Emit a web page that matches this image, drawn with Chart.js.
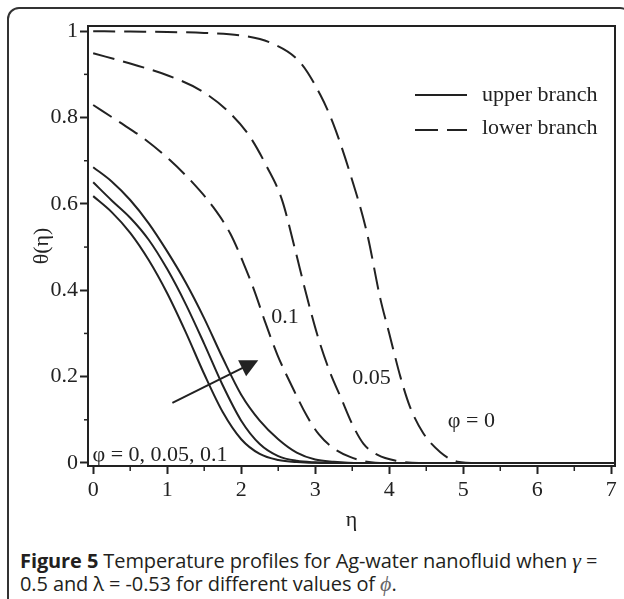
<!DOCTYPE html>
<html>
<head>
<meta charset="utf-8">
<script src="https://cdn.jsdelivr.net/npm/chart.js@4.4.1/dist/chart.umd.min.js"></script>
<style>
  html, body { margin: 0; padding: 0; background: #fff; }
  body { width: 624px; height: 599px; position: relative; overflow: hidden; }
  #frame {
    position: absolute; left: 7px; top: 7px; width: 625px; height: 660px;
    border: 2px solid #333; border-radius: 12px; box-sizing: border-box;
  }
  #wrap { position: absolute; left: 0; top: 0; width: 624px; height: 540px; }
  #caption {
    position: absolute; left: 20px; top: 549px;
    font-family: 'Open Sans', sans-serif; font-size: 20px; line-height: 23px;
    letter-spacing: -0.1px; color: #231f20; white-space: nowrap;
  }
  #caption b { font-weight: 700; }
  #caption .sym { font-family: 'Liberation Serif', serif; font-style: italic; font-size: 22px; }
</style>
</head>
<body>
<div id="frame"></div>
<div id="wrap"><canvas id="chart" width="624" height="540"></canvas></div>
<div id="caption"><b>Figure 5</b> Temperature profiles for Ag-water nanofluid when <span class="sym">γ</span> =<br>0.5 and λ = -0.53 for different values of <span class="sym" style="color:#666">ϕ</span>.</div>

<script>
// axis ticks
const etaTicks = [0, 1, 2, 3, 4, 5, 6, 7];
const etaMinor = [0.5, 1.5, 2.5, 3.5, 4.5, 5.5, 6.5];
const thetaTicks = [0, 0.2, 0.4, 0.6, 0.8, 1];
const thetaMinor = [0.1, 0.3, 0.5, 0.7, 0.9];

// upper branch (solid), phi = 0, 0.05, 0.1
const upEta0 = [0, 0.25, 0.5, 0.75, 1.0, 1.25, 1.5, 1.75, 2.0, 2.25, 2.5, 2.75, 3.1, 7.05];
const upTheta0 = [0.618, 0.581, 0.533, 0.47, 0.393, 0.303, 0.206, 0.118, 0.055, 0.021, 0.007, 0.002, 0, 0];
const upEta05 = [0, 0.25, 0.5, 0.75, 1.0, 1.25, 1.5, 1.75, 2.0, 2.25, 2.5, 2.75, 3.0, 3.3, 7.05];
const upTheta05 = [0.65, 0.608, 0.568, 0.517, 0.449, 0.368, 0.276, 0.18, 0.098, 0.044, 0.016, 0.005, 0.0015, 0, 0];
const upEta1 = [0, 0.25, 0.5, 0.75, 1.0, 1.25, 1.5, 1.75, 2.0, 2.25, 2.5, 2.75, 3.0, 3.25, 3.6, 7.05];
const upTheta1 = [0.685, 0.652, 0.609, 0.555, 0.49, 0.418, 0.335, 0.243, 0.158, 0.098, 0.055, 0.024, 0.008, 0.003, 0, 0];

// lower branch (dashed), phi = 0, 0.05, 0.1
const lowEta0 = [0, 0.5, 1.0, 1.5, 2.0, 2.4, 2.8, 3.07, 3.24, 3.47, 3.70, 3.88, 4.0, 4.15, 4.28, 4.46, 4.69, 4.92, 5.2, 7.05];
const lowTheta0 = [1.0, 0.999, 0.998, 0.996, 0.99, 0.973, 0.927, 0.852, 0.787, 0.671, 0.532, 0.38, 0.30, 0.2, 0.13, 0.069, 0.025, 0.003, 0, 0];
const lowEta05 = [0, 0.5, 1.0, 1.45, 1.8, 2.1, 2.35, 2.55, 2.72, 2.88, 3.04, 3.2, 3.35, 3.5, 3.65, 3.85, 4.1, 4.4, 7.05];
const lowTheta05 = [0.949, 0.925, 0.898, 0.863, 0.818, 0.76, 0.685, 0.61, 0.5, 0.39, 0.29, 0.21, 0.15, 0.09, 0.045, 0.018, 0.005, 0, 0];
const lowEta1 = [0, 0.35, 0.68, 1.04, 1.35, 1.62, 1.85, 2.03, 2.19, 2.32, 2.49, 2.69, 2.89, 3.05, 3.24, 3.47, 3.7, 3.95, 7.05];
const lowTheta1 = [0.829, 0.79, 0.752, 0.701, 0.648, 0.593, 0.532, 0.463, 0.393, 0.328, 0.25, 0.176, 0.108, 0.066, 0.035, 0.014, 0.003, 0, 0];

const INK = '#222';
const SERIF = "'Liberation Serif', 'Times New Roman', serif";
const DASH = [22, 9];

Chart.defaults.font.family = SERIF;
Chart.defaults.font.size = 22;
Chart.defaults.color = INK;

const pts = (xs, ys) => xs.map((x, i) => ({ x: x, y: ys[i] }));
const curve = (xs, ys, dashed) => ({
  data: pts(xs, ys),
  borderColor: INK,
  borderWidth: 2,
  borderDash: dashed ? DASH : [],
  pointRadius: 0,
  cubicInterpolationMode: 'monotone',
  fill: false
});

// box, minor ticks, labels, arrow, legend
const extras = {
  id: 'extras',
  afterDraw(chart) {
    const ctx = chart.ctx;
    const a = chart.chartArea;
    const xs = chart.scales.x, ys = chart.scales.y;
    ctx.save();
    ctx.strokeStyle = INK;
    ctx.fillStyle = INK;
    ctx.lineWidth = 2;
    // top and right sides of the frame
    ctx.beginPath();
    ctx.moveTo(a.left, a.top);
    ctx.lineTo(a.right, a.top);
    ctx.lineTo(a.right, a.bottom);
    ctx.stroke();
    // minor ticks
    ctx.lineWidth = 1.5;
    etaMinor.forEach(v => {
      const px = xs.getPixelForValue(v);
      ctx.beginPath(); ctx.moveTo(px, a.bottom); ctx.lineTo(px, a.bottom + 5); ctx.stroke();
    });
    thetaMinor.forEach(v => {
      const py = ys.getPixelForValue(v);
      ctx.beginPath(); ctx.moveTo(a.left, py); ctx.lineTo(a.left - 4, py); ctx.stroke();
    });

    // curve labels
    ctx.font = '22px ' + SERIF;
    ctx.textBaseline = 'middle';
    ctx.textAlign = 'center';
    ctx.fillText('0.1', xs.getPixelForValue(2.59), ys.getPixelForValue(0.338));
    ctx.fillText('0.05', xs.getPixelForValue(3.76), ys.getPixelForValue(0.197));
    ctx.fillText('φ = 0', xs.getPixelForValue(5.11), ys.getPixelForValue(0.097));
    ctx.textAlign = 'left';
    ctx.fillText('φ = 0, 0.05, 0.1', xs.getPixelForValue(-0.01), ys.getPixelForValue(0.019));

    // arrow
    const x0 = xs.getPixelForValue(1.07), y0 = ys.getPixelForValue(0.139);
    const x1 = xs.getPixelForValue(2.23), y1 = ys.getPixelForValue(0.238);
    const ang = Math.atan2(y1 - y0, x1 - x0);
    ctx.lineWidth = 2;
    ctx.beginPath();
    ctx.moveTo(x0, y0);
    ctx.lineTo(x1 - 14 * Math.cos(ang), y1 - 14 * Math.sin(ang));
    ctx.stroke();
    ctx.save();
    ctx.translate(x1, y1);
    ctx.rotate(ang);
    ctx.beginPath();
    ctx.moveTo(0, 0);
    ctx.lineTo(-18, -9);
    ctx.lineTo(-18, 9);
    ctx.closePath();
    ctx.fill();
    ctx.restore();

    // legend
    const lx = a.left + 327, ly1 = a.top + 69, ly2 = a.top + 104;
    ctx.lineWidth = 2;
    ctx.beginPath(); ctx.moveTo(lx, ly1); ctx.lineTo(lx + 52, ly1); ctx.stroke();
    ctx.setLineDash([23, 9]);
    ctx.beginPath(); ctx.moveTo(lx, ly2); ctx.lineTo(lx + 52, ly2); ctx.stroke();
    ctx.setLineDash([]);
    ctx.textAlign = 'left';
    ctx.fillText('upper branch', lx + 67, ly1);
    ctx.fillText('lower branch', lx + 67, ly2 - 2);
    ctx.restore();
  }
};

new Chart(document.getElementById('chart'), {
  type: 'line',
  data: {
    datasets: [
      curve(upEta0, upTheta0, false),
      curve(upEta05, upTheta05, false),
      curve(upEta1, upTheta1, false),
      curve(lowEta0, lowTheta0, true),
      curve(lowEta05, lowTheta05, true),
      curve(lowEta1, lowTheta1, true)
    ]
  },
  options: {
    responsive: false,
    animation: false,
    layout: { padding: { left: 0, top: 26, right: 9, bottom: 0 } },
    plugins: { legend: { display: false }, tooltip: { enabled: false } },
    scales: {
      x: {
        type: 'linear',
        min: -0.07, max: 7.05,
        afterBuildTicks: s => { s.ticks = etaTicks.map(v => ({ value: v })); },
        afterFit: s => { s.height = 74; },
        grid: { drawOnChartArea: false, drawTicks: true, tickLength: 8, tickWidth: 2, tickColor: INK },
        border: { display: true, color: INK, width: 2 },
        ticks: { color: INK, padding: 3, maxRotation: 0, font: { family: SERIF, size: 22 }, callback: v => String(v) },
        title: { display: true, text: 'η', color: INK, font: { family: SERIF, size: 22 }, padding: { top: 0, bottom: 7 } }
      },
      y: {
        type: 'linear',
        min: -0.007, max: 1.012,
        afterBuildTicks: s => { s.ticks = thetaTicks.map(v => ({ value: v })); },
        afterFit: s => { s.width = 88; },
        grid: { drawOnChartArea: false, drawTicks: true, tickLength: 8, tickWidth: 2, tickColor: INK },
        border: { display: true, color: INK, width: 2 },
        ticks: { color: INK, padding: 2, font: { family: SERIF, size: 22 }, callback: v => String(v) },
        title: { display: true, text: 'θ(η)', color: INK, font: { family: SERIF, size: 22 }, padding: { top: 29, bottom: 0 } }
      }
    }
  },
  plugins: [extras]
});
</script>
</body>
</html>
